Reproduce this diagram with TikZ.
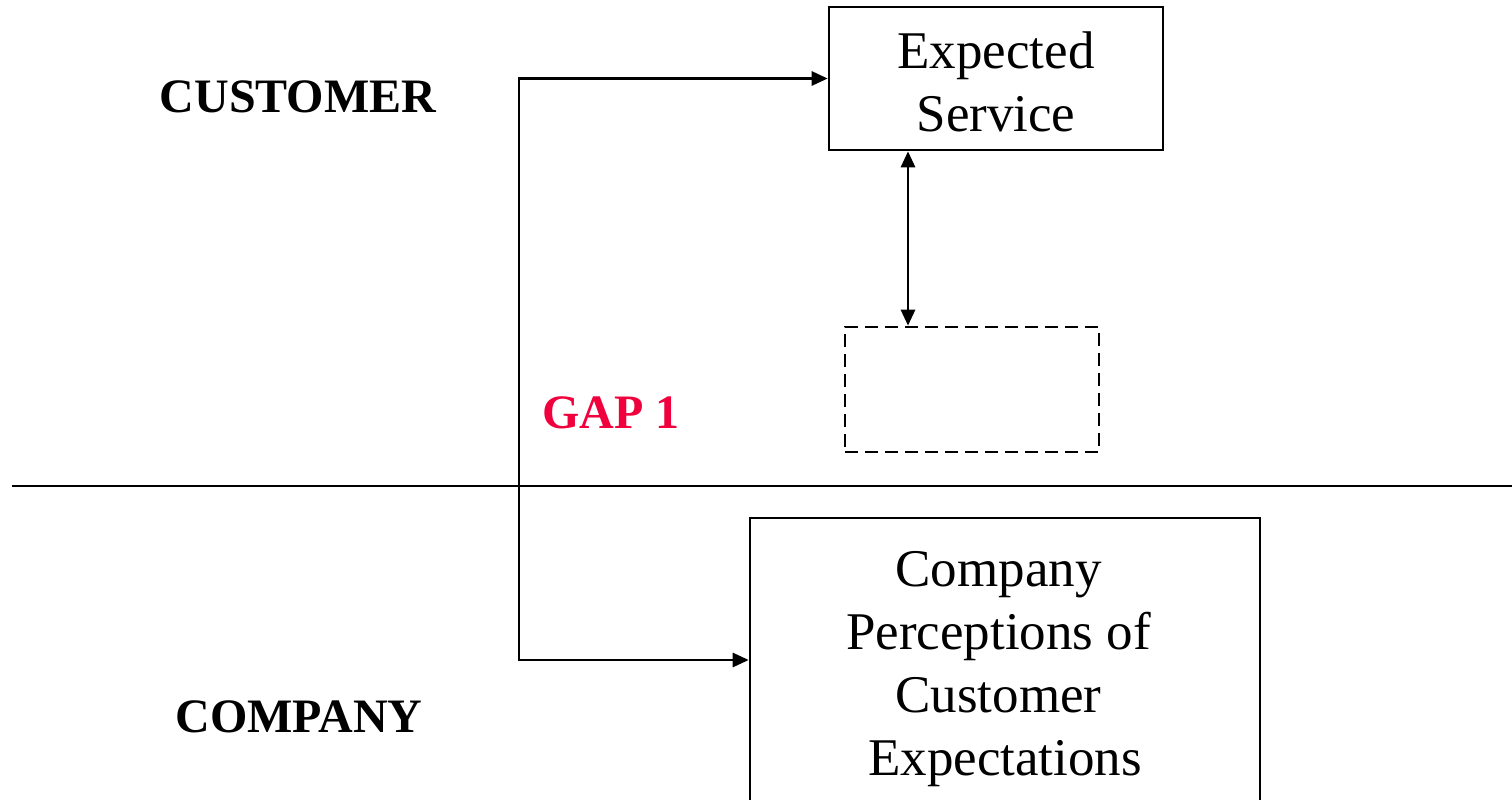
\documentclass[tikz,border=0pt]{standalone}
\usepackage{fontspec}
\setmainfont{Liberation Serif}
\usetikzlibrary{arrows.meta}
\definecolor{gapred}{RGB}{240,0,60}
\newcommand{\trail}{\rule{13pt}{0pt}}
\begin{document}
\begin{tikzpicture}[x=1pt,y=-1pt,
  line/.style={line width=2.8pt},
  tips/.style={{Triangle[length=16pt,width=14pt]}-{Triangle[length=16pt,width=14pt]}},
  box/.style={draw,line width=2.6pt,inner sep=0pt,align=center,
    font=\fontsize{53}{63}\selectfont},
  lane/.style={font=\bfseries\fontsize{48}{56}\selectfont}]
  \useasboundingbox (0,0) rectangle (1512,800);
  % boxes
  \node[box,minimum width=334pt,minimum height=143pt] (es) at (996,78.5) {};
  \node[font=\fontsize{53}{63}\selectfont,align=center,inner sep=0pt] (estext) at (996,82) {Expected\\Service};
  \node[box,dash pattern=on 13pt off 7pt,minimum width=254pt,minimum height=125pt] (dash) at (972,389.5) {};
  \node[box,minimum width=510pt,minimum height=302pt] (cp) at (1005,669)
    {Company\trail\\Perceptions of\trail\\Customer\trail\\Expectations};
  % lane labels
  \node[lane] (cust) at (298,97) {CUSTOMER};
  \node[lane] (comp) at (299,717) {COMPANY};
  \node[lane,text=gapred] (gap) at (611,413) {GAP 1};
  % customer/company divider
  \coordinate (divl) at (12,486);
  \coordinate (divr) at (1512,486);
  \draw[line] (divl) -- (divr);
  % gap connectors
  \coordinate (rail) at (519,0);
  \coordinate (mid) at (908,0);
  \draw[line,tips] (es.west) -- (es.west -| rail) |- ([yshift=9pt]cp.west);
  \draw[line,tips] (es.south -| mid) -- (dash.north -| mid);
\end{tikzpicture}
\end{document}
